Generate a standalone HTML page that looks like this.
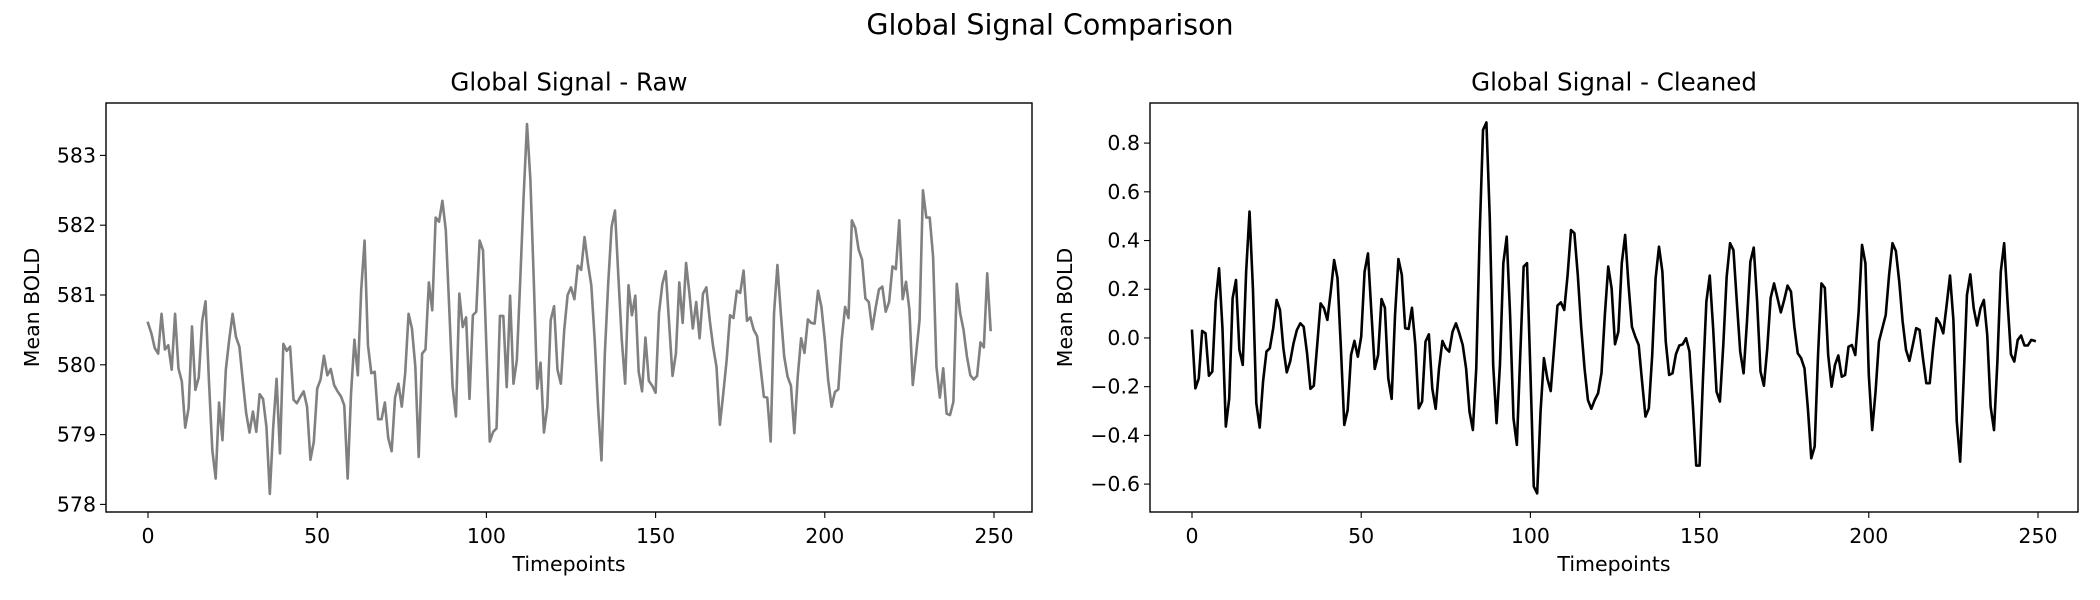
<!DOCTYPE html>
<html><head><meta charset="utf-8"><style>
html,body{margin:0;padding:0;background:#fff;}
svg{display:block;font-family:"DejaVu Sans","Liberation Sans",sans-serif;}
</style></head><body>
<svg id="fig" width="2100" height="600" viewBox="0 0 2100 600" xmlns="http://www.w3.org/2000/svg">
<text x="1050" y="25" font-size="28.5" text-anchor="middle" dominant-baseline="central">Global Signal Comparison</text>
</svg>
<script>
const timepoints = Array.from({length:250},(_, i)=>i);
const rawSignal = [580.60,580.45,580.24,580.16,580.73,580.22,580.28,579.93,580.73,579.95,579.76,579.10,579.38,580.55,579.64,579.82,580.62,580.91,579.78,578.78,578.37,579.46,578.92,579.93,580.36,580.73,580.40,580.26,579.78,579.31,579.03,579.33,579.04,579.58,579.51,579.11,578.15,579.11,579.80,578.73,580.30,580.20,580.26,579.50,579.45,579.54,579.62,579.40,578.64,578.90,579.66,579.79,580.13,579.85,579.94,579.71,579.62,579.55,579.42,578.37,579.59,580.36,579.85,581.07,581.78,580.28,579.88,579.90,579.22,579.22,579.46,578.95,578.76,579.53,579.73,579.40,579.88,580.73,580.52,579.97,578.68,580.16,580.22,581.18,580.78,582.11,582.05,582.35,581.93,580.83,579.69,579.26,581.02,580.54,580.68,579.51,580.71,580.76,581.78,581.64,580.26,578.90,579.04,579.09,580.70,580.70,579.68,580.99,579.73,580.07,581.21,582.41,583.45,582.65,581.21,579.66,580.03,579.03,579.40,580.64,580.84,579.93,579.73,580.50,581.00,581.11,580.94,581.42,581.36,581.83,581.45,581.14,580.36,579.40,578.63,580.16,581.17,581.98,582.21,581.26,580.36,579.73,581.14,580.71,580.99,579.90,579.62,580.39,579.77,579.70,579.60,580.74,581.16,581.34,580.59,579.84,580.16,581.18,580.60,581.46,581.02,580.52,580.90,580.38,581.02,581.11,580.64,580.26,579.97,579.14,579.59,580.07,580.71,580.67,581.06,581.03,581.35,580.63,580.68,580.50,580.41,579.97,579.54,579.53,578.90,580.74,581.43,580.74,580.12,579.83,579.70,579.02,579.83,580.38,580.17,580.65,580.60,580.59,581.06,580.83,580.36,579.78,579.40,579.61,579.65,580.36,580.83,580.67,582.07,581.96,581.65,581.51,580.95,580.90,580.51,580.81,581.08,581.12,580.76,580.90,581.41,581.37,582.07,580.94,581.19,580.79,579.71,580.16,580.64,582.50,582.11,582.11,581.55,579.97,579.53,579.95,579.30,579.28,579.47,581.16,580.74,580.50,580.12,579.85,579.79,579.84,580.32,580.25,581.31,580.50];
const cleanedSignal = [0.029,-0.207,-0.166,0.029,0.019,-0.155,-0.138,0.149,0.286,0.040,-0.364,-0.248,0.163,0.238,-0.049,-0.111,0.272,0.519,0.204,-0.268,-0.368,-0.179,-0.056,-0.042,0.040,0.156,0.115,-0.042,-0.141,-0.097,-0.022,0.033,0.060,0.046,-0.063,-0.209,-0.196,-0.029,0.142,0.122,0.074,0.190,0.320,0.245,-0.042,-0.357,-0.296,-0.070,-0.012,-0.077,0.005,0.272,0.347,0.108,-0.127,-0.070,0.160,0.124,-0.166,-0.250,0.094,0.324,0.259,0.040,0.037,0.124,-0.029,-0.289,-0.261,-0.015,0.015,-0.207,-0.291,-0.125,-0.012,-0.042,-0.056,0.026,0.060,0.019,-0.029,-0.125,-0.302,-0.378,-0.125,0.423,0.854,0.885,0.491,-0.111,-0.350,-0.111,0.307,0.416,0.094,-0.330,-0.439,-0.070,0.293,0.307,-0.138,-0.610,-0.638,-0.302,-0.083,-0.166,-0.218,-0.042,0.133,0.146,0.115,0.259,0.443,0.430,0.259,0.046,-0.125,-0.255,-0.291,-0.255,-0.227,-0.145,0.094,0.293,0.204,-0.026,0.026,0.307,0.423,0.217,0.046,0.005,-0.029,-0.179,-0.323,-0.289,-0.070,0.245,0.375,0.272,-0.015,-0.152,-0.145,-0.067,-0.031,-0.026,-0.001,-0.056,-0.275,-0.524,-0.524,-0.166,0.149,0.256,0.040,-0.220,-0.261,-0.029,0.252,0.389,0.361,0.149,-0.056,-0.145,0.067,0.313,0.371,0.149,-0.138,-0.196,-0.042,0.165,0.224,0.165,0.105,0.156,0.215,0.190,0.046,-0.063,-0.083,-0.125,-0.289,-0.494,-0.446,-0.070,0.224,0.206,-0.070,-0.200,-0.111,-0.072,-0.159,-0.152,-0.036,-0.029,-0.070,0.108,0.382,0.307,-0.152,-0.378,-0.220,-0.015,0.040,0.094,0.259,0.389,0.357,0.231,0.067,-0.049,-0.094,-0.029,0.040,0.033,-0.083,-0.186,-0.186,-0.042,0.081,0.060,0.019,0.135,0.256,0.074,-0.343,-0.508,-0.179,0.176,0.261,0.122,0.051,0.122,0.156,0.012,-0.282,-0.378,-0.097,0.272,0.389,0.149,-0.067,-0.097,-0.008,0.010,-0.031,-0.031,-0.008,-0.012];
const xTicks = [0,50,100,150,200,250];
const rawYTicks = [578,579,580,581,582,583];
const cleanYTicks = [-0.6,-0.4,-0.2,0.0,0.2,0.4,0.6,0.8];

const NS = "http://www.w3.org/2000/svg";
const fig = document.getElementById('fig');
function mk(tag, attrs, parent){const e=document.createElementNS(NS,tag);for(const k in attrs)e.setAttribute(k,attrs[k]);(parent||fig).appendChild(e);return e;}

function drawPanel(p){
  const g = mk('g',{});
  
  
  const sx = v => p.x0 + (v - 0) * (p.x250 - p.x0) / 250;
  const sy = v => p.yA + (v - p.vA) * (p.yB - p.yA) / (p.vB - p.vA);
  const d = p.data.map((v,i)=>(i?'L':'M')+sx(timepoints[i]).toFixed(2)+' '+sy(v).toFixed(2)).join(' ');
  const path = mk('path',{d:d,fill:'none',stroke:p.color,'stroke-width':2.6,'stroke-linejoin':'round','stroke-linecap':'square'},g);
  
  
  const fr = mk('rect',{x:p.L,y:p.T,width:p.R-p.L,height:p.B-p.T,fill:'none',stroke:'#000','stroke-width':1.4},g);
  
  
  xTicks.forEach(t=>{
    const x=sx(t);
    const tk = mk('line',{x1:x,x2:x,y1:p.B,y2:p.B+6,stroke:'#000','stroke-width':1.1},g);
    
    
    const tl = mk('text',{x:x,y:p.B+24,'font-size':20.5,'text-anchor':'middle','dominant-baseline':'central'},g);
    tl.textContent = String(t);
    
    
  });
  p.yTicks.forEach(t=>{
    const y=sy(t);
    const tk = mk('line',{x1:p.L-6,x2:p.L,y1:y,y2:y,stroke:'#000','stroke-width':1.1},g);
    
    
    const tl = mk('text',{x:p.L-10,y:y,'font-size':20.5,'text-anchor':'end','dominant-baseline':'central'},g);
    tl.textContent = p.fmt(t);
    
    
  });
  const ti = mk('text',{x:(p.L+p.R)/2,y:82,'font-size':24.5,'text-anchor':'middle','dominant-baseline':'central'},g);
  ti.textContent = p.title;
  
  
  const xl = mk('text',{x:(p.L+p.R)/2,y:564,'font-size':20.5,'text-anchor':'middle','dominant-baseline':'central'},g);
  xl.textContent = 'Timepoints';
  
  
  const yl = mk('text',{x:p.ylx,y:(p.T+p.B)/2,'font-size':20.5,'text-anchor':'middle','dominant-baseline':'central',transform:'rotate(-90 '+p.ylx+' '+((p.T+p.B)/2)+')'},g);
  yl.textContent = 'Mean BOLD';
  
  
}

drawPanel({name:'raw-panel',lineName:'raw-signal-line',title:'Global Signal - Raw',data:rawSignal,color:'#808080',
  L:106,R:1032,T:103,B:512,x0:148,x250:994,vA:583,yA:155.4,vB:578,yB:504.4,yTicks:rawYTicks,ylx:32,
  fmt:t=>String(t)});
drawPanel({name:'cleaned-panel',lineName:'cleaned-signal-line',title:'Global Signal - Cleaned',data:cleanedSignal,color:'#000000',
  L:1150,R:2078,T:103,B:512,x0:1192,x250:2038,vA:0.8,yA:143.1,vB:-0.6,yB:484.1,yTicks:cleanYTicks,ylx:1065,
  fmt:t=>(t<0?'\u2212':'')+Math.abs(t).toFixed(1)});
</script>
</body></html>
